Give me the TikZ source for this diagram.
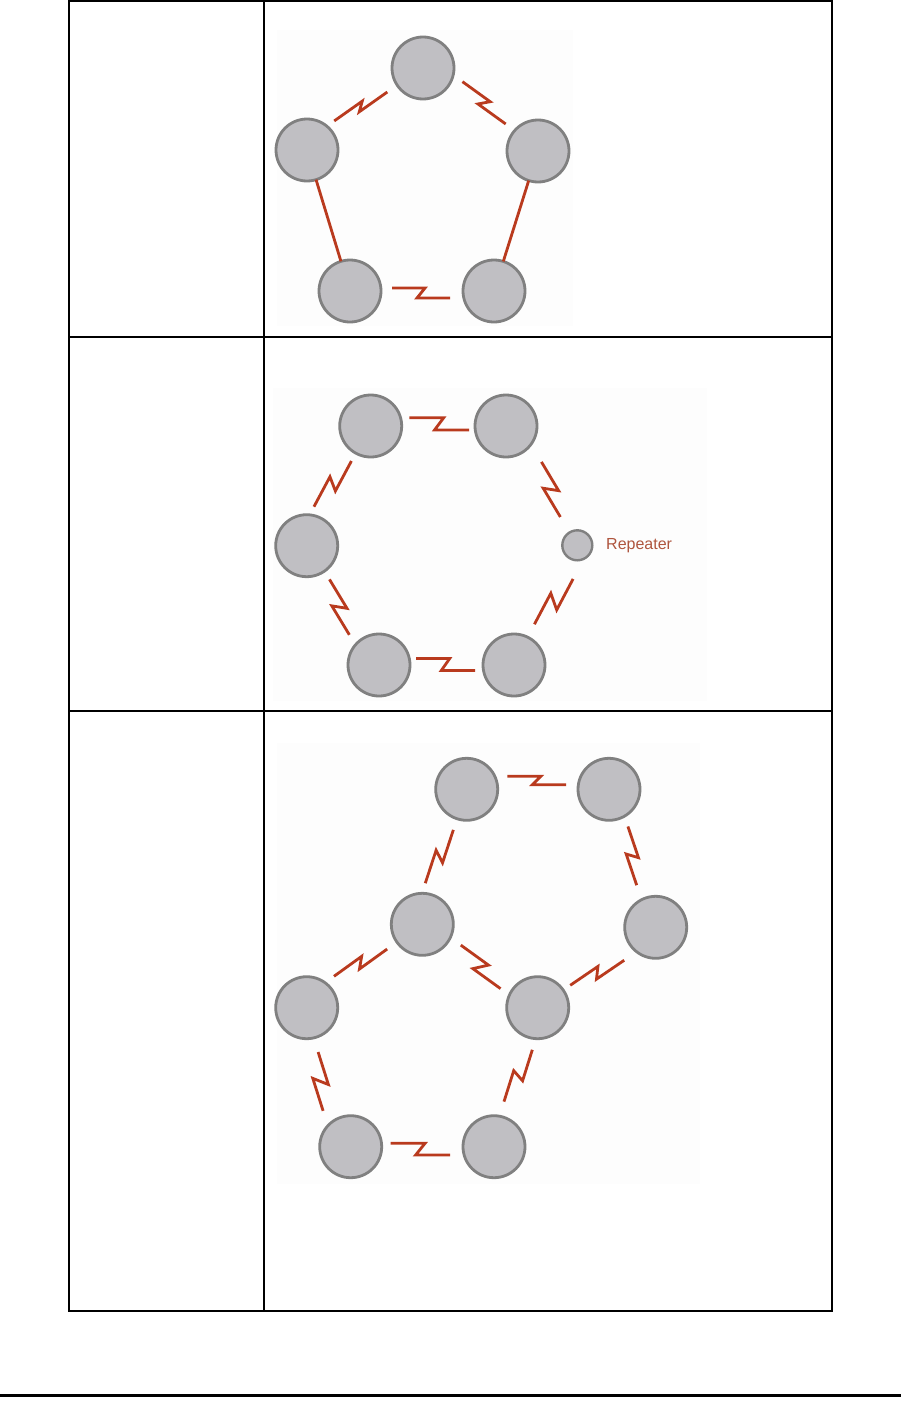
\documentclass[tikz,border=0pt]{standalone}
\usepackage{fontspec}
\setmainfont{Liberation Sans}
\usetikzlibrary{calc}
\definecolor{nodefill}{RGB}{192,191,195}
\definecolor{nodeedge}{RGB}{128,128,128}
\definecolor{linkred}{RGB}{185,58,30}
\definecolor{reptext}{RGB}{175,85,62}
\definecolor{picbg}{RGB}{253,253,253}
\tikzset{
  station/.style={circle,fill=nodefill,draw=nodeedge,line width=2.8pt,minimum size=62pt,inner sep=0pt,outer sep=0pt},
  repbox/.style={circle,fill=nodefill,draw=nodeedge,line width=2.4pt,minimum size=30pt,inner sep=0pt,outer sep=0pt},
  link/.style={draw=linkred,line width=2.8pt,line join=miter},
  rule/.style={line width=2pt,black},
  picback/.style={fill=picbg,draw=none}
}
% #1 from, #2 to, #3 gap at start, #4 gap at end, #5 lateral of first half, #6 lateral of second half, #7 half jag
\newcommand\zapline[7]{%
  \path ($(#1)!#3!(#2)$) coordinate (zs) ($(#2)!#4!(#1)$) coordinate (ze);
  \draw[link] ($(zs)!#5!90:(#2)$) -- ($(zs)!0.5!(ze)!#7!(ze)!#5!90:(ze)$)
     -- ($(zs)!0.5!(ze)!#7!(zs)!#6!90:(ze)$) -- ($(ze)!#6!90:(#2)$);
}
\begin{document}
\begin{tikzpicture}[x=1pt,y=-1pt]
\useasboundingbox (0,0) rectangle (903,1413);
% picture backgrounds
\fill[picback] (277,30) rectangle (573,326);
\fill[picback] (273,388) rectangle (707,701);
\fill[picback] (277,743) rectangle (700,1184);
% table
\draw[rule] (68.7,1) rectangle (832.3,1311.3);
\draw[rule] (264.3,1) -- (264.3,1311.3);
\draw[rule] (68.7,337) -- (832.3,337);
\draw[rule] (68.7,711.3) -- (832.3,711.3);
\draw[line width=3pt] (0,1395.5) -- (901,1395.5);

% ---- ring of five
\node[station] (p1) at (423,68) {};
\node[station] (p2) at (307,150) {};
\node[station] (p3) at (538,151) {};
\node[station] (p4) at (350,291) {};
\node[station] (p5) at (494,291) {};
\zapline{p2}{p1}{39pt}{43pt}{8pt}{1pt}{4.3pt}
\zapline{p1}{p3}{40pt}{42pt}{12pt}{3pt}{4.3pt}
\draw[link] (p2) -- (p4);
\draw[link] (p3) -- (p5);
\zapline{p4}{p5}{42pt}{44pt}{3pt}{-7pt}{4pt}

% ---- ring with repeater
\node[station] (q1) at (370.7,426) {};
\node[station] (q2) at (506,426) {};
\node[station] (q3) at (306.7,545.7) {};
\node[station] (q4) at (379,665) {};
\node[station] (q5) at (514,665) {};
\node[repbox] (rep) at (577.3,545.3) {};
\node[anchor=west,text=reptext,font=\fontsize{16}{19}\selectfont,inner sep=0pt] (replabel) at (606,546) {Repeater};
\zapline{q1}{q2}{38.6pt}{37pt}{8.3pt}{-4pt}{4.6pt}
\zapline{q2}{rep}{49pt}{33pt}{12pt}{0pt}{5pt}
\zapline{rep}{q5}{31.7pt}{45.6pt}{12pt}{-1pt}{6pt}
\zapline{q3}{q1}{37.8pt}{40pt}{12pt}{0.5pt}{5pt}
\zapline{q3}{q4}{40.6pt}{41.2pt}{2pt}{-9.7pt}{5pt}
\zapline{q4}{q5}{37pt}{39pt}{6.5pt}{-5.5pt}{4.2pt}

% ---- two joined rings
\node[station] (r1) at (466.7,789.3) {};
\node[station] (r2) at (609,789.3) {};
\node[station] (r3) at (422.3,924.3) {};
\node[station] (r4) at (655.7,927.3) {};
\node[station] (r5) at (306.7,1007.7) {};
\node[station] (r6) at (537.7,1007.7) {};
\node[station] (r7) at (350.7,1146.7) {};
\node[station] (r8) at (494,1146.7) {};
\zapline{r1}{r2}{40.6pt}{43pt}{13pt}{4.6pt}{4.2pt}
\zapline{r1}{r3}{42.7pt}{40pt}{0pt}{-10pt}{5pt}
\zapline{r2}{r4}{41.3pt}{46pt}{6pt}{-4.5pt}{3.7pt}
\zapline{r5}{r3}{40.5pt}{43pt}{9.5pt}{0.5pt}{4.6pt}
\zapline{r3}{r6}{43.4pt}{41.3pt}{5.7pt}{-6.3pt}{5.3pt}
\zapline{r6}{r4}{39.5pt}{44.6pt}{0.2pt}{-9.5pt}{4.2pt}
\zapline{r5}{r7}{45.7pt}{42.5pt}{-2.5pt}{-15.5pt}{5.3pt}
\zapline{r6}{r8}{41.8pt}{46pt}{7.5pt}{-4pt}{3.5pt}
\zapline{r7}{r8}{40pt}{44pt}{3.4pt}{-8.3pt}{4.7pt}
\end{tikzpicture}
\end{document}
